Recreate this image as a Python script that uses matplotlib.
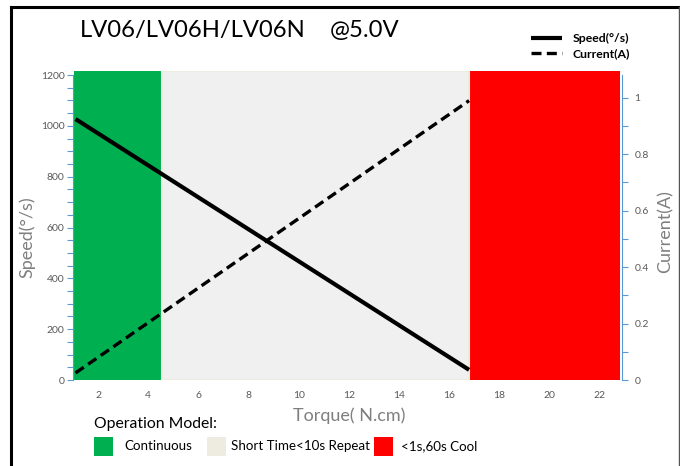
import matplotlib
matplotlib.use("Agg")
from matplotlib import pyplot as plt
from matplotlib.patches import Rectangle
from matplotlib.lines import Line2D
from matplotlib.ticker import MultipleLocator

plt.rcParams['font.family'] = ['Lato', 'DejaVu Sans']

# data
torque = [1.1, 16.8]
speed = [1027, 40]
current = [0.025, 0.99]

zone_names = ["Continuous", "Short Time<10s Repeat", "<1s,60s Cool"]
zone_start = [1.02, 4.57, 16.8]
zone_end = [4.57, 16.8, 22.83]
zone_colors = ["#00B050", "#F0F0F0", "#FF0000"]
zone_swatch = ["#00B050", "#EEECE1", "#FF0000"]

xticks = list(range(2, 23, 2))

W, H = 680, 466
fig = plt.figure(figsize=(W / 100, H / 100), dpi=100)

def fx(px):
    return px / W

def fy(py):
    return 1 - py / H

ax = fig.add_axes([fx(73), fy(380), fx(622) - fx(73), fy(71) - fy(380)])
ax2 = ax.twinx()

ax.set_xlim(1.0, 22.9)
ax.set_ylim(0, 1216)
ax2.set_ylim(0, 1.095)

for s, e, c in zip(zone_start, zone_end, zone_colors):
    ax.axvspan(s, e, color=c, lw=0, zorder=0)
# beige border at top/bottom of the grey zone
ax.axvspan(zone_start[1], zone_end[1], ymin=0, ymax=1, fill=False,
           edgecolor="#EEECE1", lw=1.5, zorder=0.5)

l1, = ax.plot(torque, speed, color="black", lw=3.0, solid_capstyle="butt", zorder=3)
l2, = ax2.plot(torque, current, color="black", lw=2.4, ls=(0, (3, 1.6)), zorder=3)

gray = "#595959"
blue = "#5B9BD5"
ax.set_xticks(xticks)
ax.tick_params(axis="x", length=0, labelsize=7.5, colors=gray, pad=8)
ax.yaxis.set_major_locator(MultipleLocator(200))
ax.yaxis.set_minor_locator(MultipleLocator(50))
ax.tick_params(axis="y", which="both", length=4, width=0.8, color=blue,
               labelcolor=gray, labelsize=7.5, pad=2)
ax2.yaxis.set_major_locator(MultipleLocator(0.2))
ax2.yaxis.set_minor_locator(MultipleLocator(0.1))
ax2.set_yticks([0, 0.2, 0.4, 0.6, 0.8, 1.0])
ax2.set_yticklabels(["0", "0.2", "0.4", "0.6", "0.8", "1"])
ax2.tick_params(axis="y", which="both", length=4, width=0.8, color=blue,
                labelcolor=gray, labelsize=7.5, pad=5)

for a in (ax, ax2):
    a.spines["top"].set_visible(False)
    a.spines["bottom"].set_visible(False)
    a.spines["left"].set_color(blue)
    a.spines["right"].set_color(blue)
    a.spines["left"].set_linewidth(0.8)
    a.spines["right"].set_linewidth(0.8)
ax.spines["right"].set_visible(False)
ax2.spines["left"].set_visible(False)
ax.spines["left"].set_bounds(0, 1200)
ax2.spines["right"].set_bounds(0, 1.08)

fig.text(fx(27), fy(237), "Speed(°/s)", rotation=90, ha="center", va="center",
         fontsize=13, color="#7F7F7F")
fig.text(fx(665), fy(232), "Current(A)", rotation=90, ha="center", va="center",
         fontsize=13, color="#7F7F7F")
fig.text(fx(349), fy(416), "Torque( N.cm)", ha="center", va="center",
         fontsize=13, color="#7F7F7F")

fig.text(fx(80), fy(30), "LV06/LV06H/LV06N", ha="left", va="center",
         fontsize=17.2, color="black")
fig.text(fx(330), fy(30), "@5.0V", ha="left", va="center",
         fontsize=17.2, color="black")

# line legend, top right
ax.legend([l1, l2], ["Speed(°/s)", "Current(A)"],
          loc="center left", bbox_to_anchor=(fx(531), fy(46)),
          bbox_transform=fig.transFigure, frameon=False,
          prop={"weight": "bold", "size": 8.8}, handlelength=2.5,
          handletextpad=0.9, labelspacing=0.35, borderpad=0, borderaxespad=0)

# operation-model legend
fig.text(fx(94), fy(424), "Operation Model:", ha="left", va="center",
         fontsize=11.3, color="black")
sw_x = [94, 207, 374]
tx_x = [124, 231, 401]
for x0, t0, name, c in zip(sw_x, tx_x, zone_names, zone_swatch):
    fig.add_artist(Rectangle((fx(x0), fy(456)), fx(19), fy(437) - fy(456),
                             transform=fig.transFigure, facecolor=c, edgecolor="none"))
    fig.text(fx(t0), fy(446), name, ha="left", va="center", fontsize=9.6, color="black")

# frame around the picture
fig.add_artist(Line2D([fx(11), fx(11)], [0, fy(7)], transform=fig.transFigure,
                      color="black", lw=2.2))
fig.add_artist(Line2D([fx(11), fx(679)], [fy(7), fy(7)], transform=fig.transFigure,
                      color="black", lw=2.2))
fig.add_artist(Line2D([fx(679), fx(679)], [0, fy(7)], transform=fig.transFigure,
                      color="#555555", lw=1.0))

fig.savefig("out.png", dpi=100)
